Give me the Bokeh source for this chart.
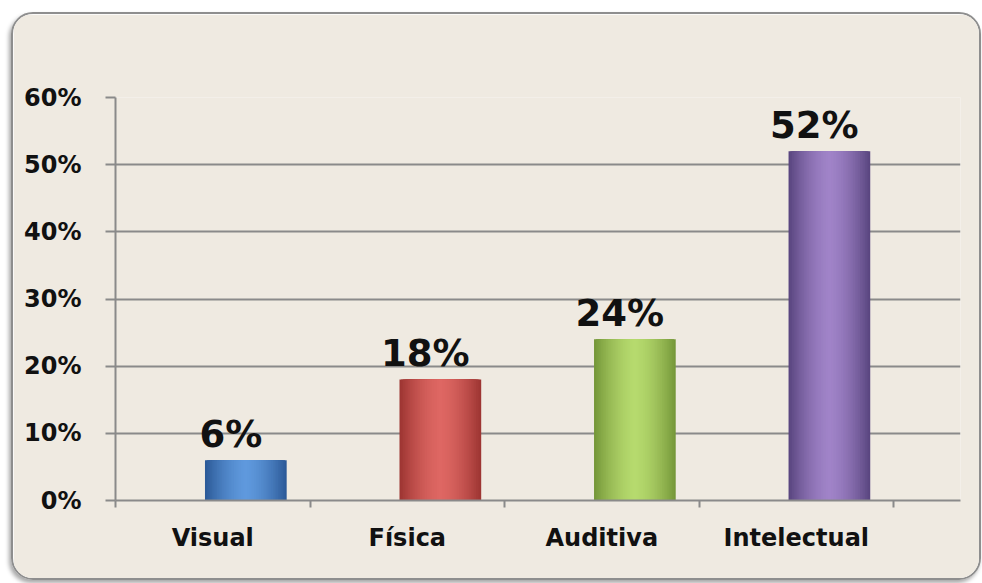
from bokeh.plotting import figure
from bokeh.models import Range1d, FixedTicker, ColumnDataSource
from bokeh.core.properties import value
from bokeh.embed import file_html
from bokeh.resources import INLINE

categories = ["Visual", "Física", "Auditiva", "Intelectual"]
values = [0.06, 0.18, 0.24, 0.52]
value_labels = ["6%", "18%", "24%", "52%"]
y_ticks = [0.0, 0.1, 0.2, 0.3, 0.4, 0.5, 0.6]
y_tick_labels = ["0%", "10%", "20%", "30%", "40%", "50%", "60%"]
edge_colors = ["#2c5a98", "#9e3633", "#76983a", "#5a4680"]
mid_colors = ["#5f99dd", "#de6763", "#b6da6e", "#a083c8"]

BAR_SHIFT = 0.17
BAR_WIDTH = 0.42
N_LAYERS = 24
FONT = "DejaVu Sans"


def hex2rgb(h):
    h = h.lstrip("#")
    return [int(h[i:i + 2], 16) for i in (0, 2, 4)]


def rgb2hex(c):
    return "#%02x%02x%02x" % tuple(max(0, min(255, int(round(v)))) for v in c)


p = figure(
    width=970, height=568,
    x_range=Range1d(0, 4.344), y_range=Range1d(0, 0.6),
    output_backend="svg", toolbar_location=None,
    min_border_left=102, min_border_top=83, min_border_right=23, min_border_bottom=82,
    background_fill_color="#efeae1", border_fill_color="#efeae1",
)
p.styles = {
    "margin-left": "11px",
    "margin-top": "12px",
    "border": "2px solid #8e8e8e",
    "border-radius": "22px",
    "box-shadow": "-2px 3px 4px rgba(0,0,0,0.35)",
    "overflow": "hidden",
}
p.outline_line_color = None

# gradient bars built from nested layers (edge colour outside, lighter centre)
xs, tops, ws, cols = [], [], [], []
for i, v in enumerate(values):
    center = i + 0.5 + BAR_SHIFT
    e = hex2rgb(edge_colors[i])
    m = hex2rgb(mid_colors[i])
    for k in range(N_LAYERS):
        t = 1 - k / N_LAYERS
        f = t ** 1.6
        c = [m[j] * (1 - f) + e[j] * f for j in range(3)]
        xs.append(center)
        tops.append(v)
        ws.append(BAR_WIDTH * t)
        cols.append(rgb2hex(c))
p.vbar(x=xs, top=tops, width=ws, bottom=0, fill_color=cols, line_color=None)

# value labels
lab_src = ColumnDataSource(dict(
    x=[i + 0.5 + BAR_SHIFT for i in range(len(values))],
    y=values, t=value_labels))
p.text(x="x", y="y", text="t", source=lab_src, text_align="center",
       text_baseline="alphabetic", x_offset=-15, y_offset=-26,
       text_font=value(FONT), text_font_style="bold", text_font_size="37px",
       text_color="#111111")

# grid
p.xgrid.visible = False
p.ygrid.ticker = FixedTicker(ticks=y_ticks)
p.ygrid.grid_line_color = "#8a8a8a"
p.ygrid.grid_line_width = 2

# y axis
ya = p.yaxis[0]
ya.ticker = FixedTicker(ticks=y_ticks)
ya.major_label_overrides = {t: l for t, l in zip(y_ticks, y_tick_labels)}
ya.axis_line_color = "#8a8a8a"
ya.axis_line_width = 2
ya.major_tick_line_color = "#8a8a8a"
ya.major_tick_line_width = 2
ya.major_tick_out = 10
ya.major_tick_in = 0
ya.minor_tick_line_color = None
ya.major_label_standoff = 24
ya.major_label_text_font = FONT
ya.major_label_text_font_style = "bold"
ya.major_label_text_font_size = "24px"
ya.major_label_text_color = "#111111"

# x axis
centers = [i + 0.5 for i in range(len(categories))]
bounds = [float(i) for i in range(len(categories) + 1)]
xa = p.xaxis[0]
xa.ticker = FixedTicker(ticks=centers, minor_ticks=bounds)
xa.major_label_overrides = {c: l for c, l in zip(centers, categories)}
xa.axis_line_color = "#8a8a8a"
xa.axis_line_width = 2
xa.major_tick_line_color = None
xa.minor_tick_line_color = "#8a8a8a"
xa.minor_tick_line_width = 2
xa.minor_tick_out = 7
xa.minor_tick_in = 0
xa.major_label_standoff = 16
xa.major_label_text_font = FONT
xa.major_label_text_font_style = "bold"
xa.major_label_text_font_size = "24px"
xa.major_label_text_color = "#111111"

open("out.html", "w").write(file_html(p, INLINE))
